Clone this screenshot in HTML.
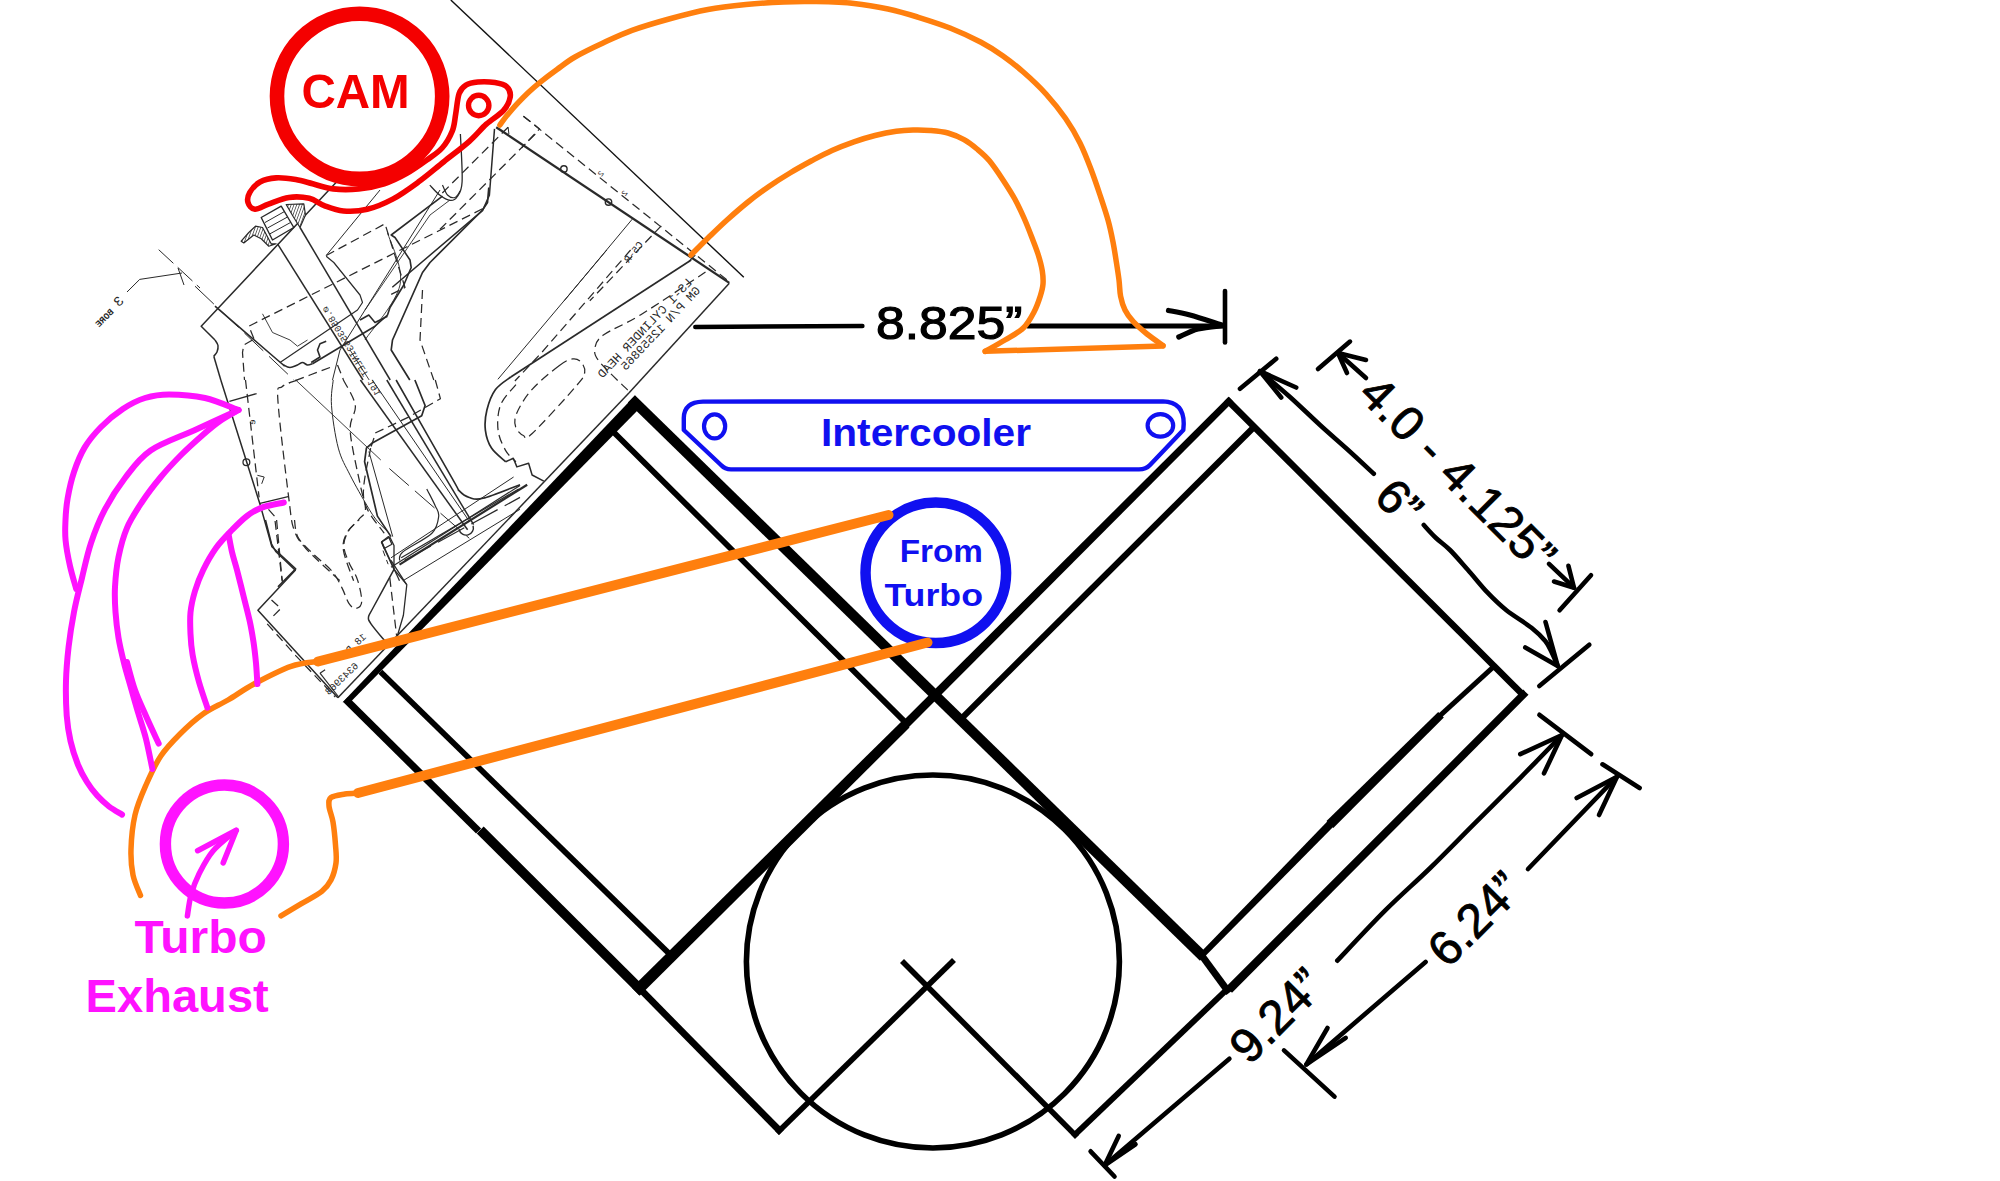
<!DOCTYPE html>
<html><head><meta charset="utf-8"><title>Engine layout</title>
<style>
html,body{margin:0;padding:0;background:#fff;}
body{width:2000px;height:1181px;overflow:hidden;}
svg{display:block;}
text{font-family:"Liberation Sans",sans-serif;}
.b{font-weight:bold;}
.m{font-family:"Liberation Mono",monospace;}
</style></head><body>
<svg width="2000" height="1181" viewBox="0 0 2000 1181">
<defs><pattern id="hatch" width="2.6" height="2.6" patternUnits="userSpaceOnUse" patternTransform="rotate(20)"><rect width="2.6" height="2.6" fill="#fff"/><line x1="0" y1="0" x2="0" y2="2.6" stroke="#222" stroke-width="1.3"/></pattern></defs>
<g id="head">
<path d="M336.5,182.0 L201.2,326.2 L215.0,340.0" fill="none" stroke="#2a2a2a" stroke-width="1.5" stroke-linecap="butt" stroke-linejoin="round" />
<path d="M215.0,340.0 C215.5,340.9 217.7,343.5 218.0,345.5 C218.3,347.5 217.7,350.2 217.0,352.0 C216.3,353.8 214.3,355.5 213.8,356.2" fill="none" stroke="#2a2a2a" stroke-width="1.5" stroke-linecap="butt" stroke-linejoin="round" />
<path d="M213.8,356.2 L220.8,380.0" fill="none" stroke="#2a2a2a" stroke-width="1.5" stroke-linecap="butt" stroke-linejoin="round" />
<path d="M220.8,380.0 L260.0,504.2 L271.9,546.8 L295.7,568.9 L277.9,586.8" fill="none" stroke="#2a2a2a" stroke-width="1.5" stroke-linecap="butt" stroke-linejoin="round" />
<path d="M229.4,401.3 L256.6,393.6" fill="none" stroke="#2a2a2a" stroke-width="1.25" stroke-linecap="butt" stroke-linejoin="round" />
<path d="M260.0,503.4 L288.1,496.6" fill="none" stroke="#2a2a2a" stroke-width="1.25" stroke-linecap="butt" stroke-linejoin="round" />
<circle cx="246.4" cy="462.2" r="3.4" fill="none" stroke="#2a2a2a" stroke-width="1.3"/>
<path d="M257.4,475.3 L264.2,477.0 L261.7,483.8" fill="none" stroke="#2a2a2a" stroke-width="1.0" stroke-linecap="butt" stroke-linejoin="round" />
<path d="M252.5,340.0 L243.8,345.0 L242.5,352.5 L244.5,380.0" fill="none" stroke="#2a2a2a" stroke-width="1.25" stroke-linecap="butt" stroke-linejoin="round" stroke-dasharray="9 5"/>
<path d="M245.5,380.0 L259.1,497.4" fill="none" stroke="#2a2a2a" stroke-width="1.25" stroke-linecap="butt" stroke-linejoin="round" stroke-dasharray="9 5"/>
<path d="M268.5,509.3 L274.5,516.1 L282.1,580.8" fill="none" stroke="#2a2a2a" stroke-width="1.25" stroke-linecap="butt" stroke-linejoin="round" stroke-dasharray="9 5"/>
<path d="M265.5,520.0 L271.5,543.8 L275.7,551.5 L295.3,570.2 L257.9,610.2 L337.9,697.8" fill="none" stroke="#2a2a2a" stroke-width="1.5" stroke-linecap="butt" stroke-linejoin="round" />
<path d="M337.9,697.8 L628.9,393.0" fill="none" stroke="#2a2a2a" stroke-width="1.5" stroke-linecap="butt" stroke-linejoin="round" />
<path d="M276.6,520.0 L281.7,576.2 L282.5,582.1" fill="none" stroke="#2a2a2a" stroke-width="1.25" stroke-linecap="butt" stroke-linejoin="round" stroke-dasharray="9 5"/>
<path d="M271.5,600.0 L280.8,608.5 L270.6,618.7" fill="none" stroke="#2a2a2a" stroke-width="1.25" stroke-linecap="butt" stroke-linejoin="round" stroke-dasharray="9 5"/>
<path d="M267.2,623.8 L296.2,656.1 L335.3,697.0" fill="none" stroke="#2a2a2a" stroke-width="1.25" stroke-linecap="butt" stroke-linejoin="round" stroke-dasharray="9 5"/>
<path d="M320.0,673.2 L338.7,697.0" fill="none" stroke="#2a2a2a" stroke-width="1.2" stroke-linecap="butt" stroke-linejoin="round" />
<path d="M320.0,673.2 L325.1,669.8" fill="none" stroke="#2a2a2a" stroke-width="1.2" stroke-linecap="butt" stroke-linejoin="round" />
<path d="M294.5,520.0 C295.0,522.8 295.0,531.6 297.9,537.0 C300.7,542.4 305.8,546.7 311.5,552.3 C317.1,558.0 326.8,565.1 331.9,571.1 C337.0,577.0 339.3,582.7 342.1,588.1 C344.9,593.5 346.6,600.0 348.9,603.4 C351.2,606.8 353.6,608.8 355.7,608.5 C357.9,608.2 361.4,606.5 361.7,601.7 C362.0,596.9 359.6,586.1 357.4,579.6 C355.3,573.0 351.2,568.2 348.9,562.5 C346.6,556.9 343.8,550.9 343.8,545.5 C343.8,540.1 346.4,534.5 348.9,530.2 C351.5,526.0 357.4,521.7 359.1,520.0" fill="none" stroke="#2a2a2a" stroke-width="1.25" stroke-linecap="butt" stroke-linejoin="round" stroke-dasharray="9 5"/>
<path d="M394.0,569.4 C390.5,575.9 377.0,600.6 372.7,608.5 C368.5,616.4 368.8,614.5 368.5,617.0 C368.2,619.6 368.3,619.8 371.0,623.8 C373.7,627.8 382.4,638.0 384.7,640.8" fill="none" stroke="#2a2a2a" stroke-width="1.5" stroke-linecap="butt" stroke-linejoin="round" />
<path d="M394.0,569.4 L406.8,584.7 L403.4,615.3 L397.4,635.7" fill="none" stroke="#2a2a2a" stroke-width="1.3" stroke-linecap="butt" stroke-linejoin="round" />
<path d="M389.8,577.9 L396.6,635.7" fill="none" stroke="#2a2a2a" stroke-width="1.25" stroke-linecap="butt" stroke-linejoin="round" stroke-dasharray="9 5"/>
<path d="M381.3,542.1 L389.8,537.0 L394.0,545.5 L394.0,569.4" fill="none" stroke="#2a2a2a" stroke-width="1.3" stroke-linecap="butt" stroke-linejoin="round" />
<path d="M381.3,542.1 L394.0,569.4" fill="none" stroke="#2a2a2a" stroke-width="1.3" stroke-linecap="butt" stroke-linejoin="round" />
<path d="M383.0,550.6 L388.1,564.2" fill="none" stroke="#2a2a2a" stroke-width="1.0" stroke-linecap="butt" stroke-linejoin="round" stroke-dasharray="6 4"/>
<path d="M241.2,241.2 L248.8,232.5 L255.5,226.2 L262.5,227.5 L271.2,243.8 L276.2,243.8 L268.8,246.2 L261.2,238.8 L253.8,235.0 L243.8,243.0Z" fill="url(#hatch)" stroke="#2a2a2a" stroke-width="1.2" stroke-linecap="butt" stroke-linejoin="round" />
<path d="M286.2,204.5 L303.8,203.8 L305.5,215.0 L300.0,227.5 L293.0,216.2Z" fill="url(#hatch)" stroke="#2a2a2a" stroke-width="1.2" stroke-linecap="butt" stroke-linejoin="round" />
<path d="M261.2,217.5 L281.2,206.2 L293.8,227.5 L272.5,240.0Z" fill="none" stroke="#2a2a2a" stroke-width="1.4" stroke-linecap="butt" stroke-linejoin="round" />
<path d="M265.0,222.5 L284.5,211.5" fill="none" stroke="#2a2a2a" stroke-width="1.0" stroke-linecap="butt" stroke-linejoin="round" />
<path d="M267.5,228.0 L287.5,217.0" fill="none" stroke="#2a2a2a" stroke-width="1.0" stroke-linecap="butt" stroke-linejoin="round" />
<path d="M270.0,233.8 L290.5,222.5" fill="none" stroke="#2a2a2a" stroke-width="1.0" stroke-linecap="butt" stroke-linejoin="round" />
<path d="M277.5,243.8 L363.0,380.0" fill="none" stroke="#2a2a2a" stroke-width="1.5" stroke-linecap="butt" stroke-linejoin="round" />
<path d="M300.0,227.5 L390.2,380.0" fill="none" stroke="#2a2a2a" stroke-width="1.5" stroke-linecap="butt" stroke-linejoin="round" />
<path d="M350.0,350.0 L369.2,380.0" fill="none" stroke="#2a2a2a" stroke-width="0.9" stroke-linecap="butt" stroke-linejoin="round" />
<path d="M360.4,380.0 L467.6,529.8" fill="none" stroke="#2a2a2a" stroke-width="1.5" stroke-linecap="butt" stroke-linejoin="round" />
<path d="M372.3,380.0 L469.3,521.3" fill="none" stroke="#2a2a2a" stroke-width="1.0" stroke-linecap="butt" stroke-linejoin="round" />
<path d="M386.8,380.0 L473.6,524.7" fill="none" stroke="#2a2a2a" stroke-width="1.5" stroke-linecap="butt" stroke-linejoin="round" />
<path d="M215.0,306.2 C225.4,315.2 266.0,350.2 277.5,360.0 C289.0,369.8 281.7,363.8 283.8,365.0 C285.8,366.2 287.7,367.5 290.0,367.5 C292.3,367.5 295.4,365.8 297.5,365.0 C299.6,364.2 300.8,362.5 302.5,362.5 C304.2,362.5 305.8,364.8 307.5,365.0 C309.2,365.2 311.7,364.0 312.5,363.8" fill="none" stroke="#2a2a2a" stroke-width="1.6" stroke-linecap="butt" stroke-linejoin="round" />
<path d="M312.5,363.8 L375.0,326.2 L387.5,315.0 L390.0,307.5 L403.8,285.0 L411.2,267.5 L410.0,260.0 L395.0,237.5 L391.2,235.0 L442.5,196.2" fill="none" stroke="#2a2a2a" stroke-width="1.6" stroke-linecap="butt" stroke-linejoin="round" />
<path d="M311.2,362.5 L320.0,357.0 L317.5,350.0 L320.0,343.8 L326.2,341.2" fill="none" stroke="#2a2a2a" stroke-width="1.6" stroke-linecap="butt" stroke-linejoin="round" />
<path d="M360.0,320.0 L368.8,315.0 L375.0,322.5 L387.5,316.2" fill="none" stroke="#2a2a2a" stroke-width="1.6" stroke-linecap="butt" stroke-linejoin="round" />
<path d="M326.2,256.2 L333.8,262.5 L360.0,295.0 L362.5,302.5 L357.5,310.0 L280.0,362.5" fill="none" stroke="#2a2a2a" stroke-width="1.2" stroke-linecap="butt" stroke-linejoin="round" />
<path d="M380.0,190.0 L326.2,255.5" fill="none" stroke="#2a2a2a" stroke-width="1.0" stroke-linecap="butt" stroke-linejoin="round" />
<path d="M440.0,190.0 L340.0,350.0 L332.5,380.0" fill="none" stroke="#2a2a2a" stroke-width="1.0" stroke-linecap="butt" stroke-linejoin="round" />
<path d="M450.0,200.0 L430.0,215.0 L365.0,310.0" fill="none" stroke="#2a2a2a" stroke-width="0.9" stroke-linecap="butt" stroke-linejoin="round" />
<path d="M488.8,187.5 L487.5,202.5 L482.5,210.0 L430.0,262.5 L422.5,272.5 L392.5,340.0 L391.2,350.0 L409.8,380.0" fill="none" stroke="#2a2a2a" stroke-width="1.7" stroke-linecap="butt" stroke-linejoin="round" />
<path d="M442.5,185.0 C443.3,186.7 445.4,192.9 447.5,195.0 C449.6,197.1 452.9,198.1 455.0,197.5 C457.1,196.9 459.2,192.3 460.0,191.2" fill="none" stroke="#2a2a2a" stroke-width="1.2" stroke-linecap="butt" stroke-linejoin="round" />
<path d="M482.5,208.8 L248.8,326.2 L255.5,342.5" fill="none" stroke="#2a2a2a" stroke-width="1.25" stroke-linecap="butt" stroke-linejoin="round" stroke-dasharray="9 5"/>
<path d="M326.2,255.5 L385.0,223.8 L405.0,287.5 L390.0,295.0" fill="none" stroke="#2a2a2a" stroke-width="1.25" stroke-linecap="butt" stroke-linejoin="round" stroke-dasharray="9 5"/>
<path d="M262.5,313.8 L272.5,332.5 L290.0,340.0 L297.5,346.2 L307.5,340.0" fill="none" stroke="#2a2a2a" stroke-width="0.9" stroke-linecap="butt" stroke-linejoin="round" />
<path d="M330.0,367.5 C326.7,368.8 316.9,372.4 310.0,375.0 C303.1,377.6 292.3,381.7 288.8,383.0" fill="none" stroke="#2a2a2a" stroke-width="1.25" stroke-linecap="butt" stroke-linejoin="round" stroke-dasharray="9 5"/>
<path d="M422.5,290.0 L420.0,340.0 L433.8,380.0" fill="none" stroke="#2a2a2a" stroke-width="1.25" stroke-linecap="butt" stroke-linejoin="round" stroke-dasharray="9 5"/>
<path d="M195.0,286.2 L294.0,380.0" fill="none" stroke="#2a2a2a" stroke-width="1.0" stroke-linecap="butt" stroke-linejoin="round" stroke-dasharray="26 8"/>
<path d="M337.5,365.0 L343.5,380.0" fill="none" stroke="#2a2a2a" stroke-width="1.25" stroke-linecap="butt" stroke-linejoin="round" stroke-dasharray="9 5"/>
<path d="M387.5,232.5 C389.6,241.2 403.8,267.1 400.0,285.0 C396.2,302.9 370.8,330.8 365.0,340.0" fill="none" stroke="#2a2a2a" stroke-width="0.9" stroke-linecap="butt" stroke-linejoin="round" />
<path d="M297.4,380.0 C294.9,381.1 285.4,383.4 282.1,386.8 C278.8,390.2 276.7,381.7 277.9,400.4 C279.0,419.1 286.2,477.6 288.9,499.1 C291.6,520.7 291.2,521.5 294.0,529.8 C296.9,538.0 298.3,540.0 305.9,548.5 C313.6,557.0 334.3,575.4 340.0,580.8" fill="none" stroke="#2a2a2a" stroke-width="1.25" stroke-linecap="butt" stroke-linejoin="round" stroke-dasharray="9 5"/>
<path d="M333.2,380.0 C332.9,384.3 330.6,394.2 331.5,405.5 C332.3,416.9 335.2,436.4 338.3,448.1 C341.4,459.7 345.4,465.7 350.2,475.3 C355.0,484.9 362.7,498.3 367.2,505.9 C371.7,513.6 373.7,516.7 377.4,521.3 C381.1,525.8 387.3,531.2 389.3,533.2" fill="none" stroke="#2a2a2a" stroke-width="1.0" stroke-linecap="butt" stroke-linejoin="round" />
<path d="M343.4,380.0 C345.4,384.3 354.2,397.0 355.3,405.5 C356.4,414.0 349.3,417.7 350.2,431.1 C351.0,444.4 357.8,472.5 360.4,485.5 C362.9,498.6 365.8,503.7 365.5,509.3 C365.2,515.0 361.8,515.6 358.7,519.6 C355.6,523.5 349.3,528.1 346.8,533.2 C344.2,538.3 342.2,542.2 343.4,550.2 C344.5,558.1 351.9,575.7 353.6,580.8" fill="none" stroke="#2a2a2a" stroke-width="1.25" stroke-linecap="butt" stroke-linejoin="round" stroke-dasharray="9 5"/>
<path d="M414.9,380.0 L425.1,405.5 L421.7,415.7 L372.3,443.0 L366.4,448.1 L364.6,461.7 L377.4,516.1 L391.0,536.6" fill="none" stroke="#2a2a2a" stroke-width="1.7" stroke-linecap="butt" stroke-linejoin="round" />
<path d="M435.3,380.0 L440.4,398.7 L408.0,417.4 L375.7,432.8 L370.6,448.1" fill="none" stroke="#2a2a2a" stroke-width="1.25" stroke-linecap="butt" stroke-linejoin="round" stroke-dasharray="9 5"/>
<path d="M368.9,451.5 L392.7,536.6" fill="none" stroke="#2a2a2a" stroke-width="1.0" stroke-linecap="butt" stroke-linejoin="round" />
<path d="M370.6,448.1 C369.5,456.6 361.5,484.9 363.8,499.1 C366.1,513.3 380.8,527.5 384.2,533.2" fill="none" stroke="#2a2a2a" stroke-width="1.25" stroke-linecap="butt" stroke-linejoin="round" stroke-dasharray="9 5"/>
<path d="M295.7,380.0 L380.8,460.0" fill="none" stroke="#2a2a2a" stroke-width="0.9" stroke-linecap="butt" stroke-linejoin="round" />
<path d="M389.3,468.5 L469.3,538.3" fill="none" stroke="#2a2a2a" stroke-width="1.0" stroke-linecap="butt" stroke-linejoin="round" stroke-dasharray="26 8"/>
<path d="M396.1,380.0 C405.5,396.5 441.8,460.3 452.3,478.7 C462.8,497.1 456.3,487.5 459.1,490.6 C461.9,493.7 465.3,496.2 469.3,497.4 C473.3,498.7 474.5,500.4 482.9,498.3 C491.4,496.2 513.8,486.9 520.0,484.7" fill="none" stroke="#2a2a2a" stroke-width="1.6" stroke-linecap="butt" stroke-linejoin="round" />
<path d="M399.5,560.4 C400.1,559.0 397.6,556.4 402.9,551.9 C408.3,547.3 425.9,539.1 431.9,533.2 C437.8,527.2 438.1,520.7 438.7,516.1 C439.2,511.6 437.3,510.5 435.3,505.9 C433.3,501.4 428.2,491.8 426.8,488.9" fill="none" stroke="#2a2a2a" stroke-width="1.2" stroke-linecap="butt" stroke-linejoin="round" />
<path d="M391.0,567.2 L520.0,485.5" fill="none" stroke="#2a2a2a" stroke-width="1.2" stroke-linecap="butt" stroke-linejoin="round" />
<path d="M399.5,564.6 L527.2,484.7" fill="none" stroke="#2a2a2a" stroke-width="2.2" stroke-linecap="butt" stroke-linejoin="round" />
<path d="M401.2,557.8 L518.7,488.9" fill="none" stroke="#2a2a2a" stroke-width="1.2" stroke-linecap="butt" stroke-linejoin="round" />
<path d="M391.0,557.8 L513.6,477.0" fill="none" stroke="#2a2a2a" stroke-width="1.0" stroke-linecap="butt" stroke-linejoin="round" />
<path d="M404.6,560.4 L520.0,497.4" fill="none" stroke="#2a2a2a" stroke-width="1.2" stroke-linecap="butt" stroke-linejoin="round" stroke-dasharray="30 8"/>
<path d="M381.7,541.7 L388.5,536.6 L391.9,544.2 L384.2,548.5Z" fill="none" stroke="#2a2a2a" stroke-width="1.3" stroke-linecap="butt" stroke-linejoin="round" />
<path d="M381.7,541.7 L399.5,580.8" fill="none" stroke="#2a2a2a" stroke-width="1.3" stroke-linecap="butt" stroke-linejoin="round" />
<path d="M391.0,560.4 L406.3,584.2" fill="none" stroke="#2a2a2a" stroke-width="1.3" stroke-linecap="butt" stroke-linejoin="round" />
<path d="M402.9,580.8 L520.0,509.3" fill="none" stroke="#2a2a2a" stroke-width="1.0" stroke-linecap="butt" stroke-linejoin="round" />
<path d="M459.1,529.8 a7,7 0 0 0 14,-4" fill="none" stroke="#2a2a2a" stroke-width="1.4"/>
<path d="M496.2,127.2 L729.3,282.9" fill="none" stroke="#2a2a2a" stroke-width="2.3" stroke-linecap="butt" stroke-linejoin="round" />
<path d="M523.4,116.2 L729.3,281.8" fill="none" stroke="#2a2a2a" stroke-width="1.25" stroke-linecap="butt" stroke-linejoin="round" stroke-dasharray="9 5"/>
<path d="M523.4,116.2 L539.6,128.9 L521.7,147.7" fill="none" stroke="#2a2a2a" stroke-width="1.25" stroke-linecap="butt" stroke-linejoin="round" stroke-dasharray="9 5"/>
<path d="M508.1,127.2 L440.0,195.3" fill="none" stroke="#2a2a2a" stroke-width="1.25" stroke-linecap="butt" stroke-linejoin="round" stroke-dasharray="9 5"/>
<path d="M535.3,134.0 L440.0,229.3" fill="none" stroke="#2a2a2a" stroke-width="1.25" stroke-linecap="butt" stroke-linejoin="round" stroke-dasharray="9 5"/>
<path d="M508.1,127.2 L508.9,134.0" fill="none" stroke="#2a2a2a" stroke-width="1.0" stroke-linecap="butt" stroke-linejoin="round" />
<circle cx="563.9" cy="168.9" r="3.2" fill="none" stroke="#2a2a2a" stroke-width="1.4"/>
<circle cx="608.5" cy="202.1" r="3.2" fill="none" stroke="#2a2a2a" stroke-width="1.4"/>
<path d="M494.5,128.9 L489.4,195.3 L482.5,210.6 L392.3,287.2" fill="none" stroke="#2a2a2a" stroke-width="1.5" stroke-linecap="butt" stroke-linejoin="round" />
<path d="M460.4,134.0 C460.7,142.0 462.7,171.2 462.1,181.7 C461.6,192.2 459.0,193.9 457.0,197.0 C455.0,200.1 453.0,200.7 450.2,200.4 C447.4,200.1 443.4,197.9 440.0,195.3 C436.6,192.8 431.5,186.8 429.8,185.1" fill="none" stroke="#2a2a2a" stroke-width="1.3" stroke-linecap="butt" stroke-linejoin="round" />
<path d="M632.3,219.1 L564.2,300.8" fill="none" stroke="#2a2a2a" stroke-width="1.0" stroke-linecap="butt" stroke-linejoin="round" />
<path d="M661.2,225.9 L589.8,300.8" fill="none" stroke="#2a2a2a" stroke-width="1.25" stroke-linecap="butt" stroke-linejoin="round" stroke-dasharray="9 5"/>
<path d="M606.8,250.0 L497.9,379.3" fill="none" stroke="#2a2a2a" stroke-width="1.0" stroke-linecap="butt" stroke-linejoin="round" />
<path d="M630.6,250.0 L542.1,352.1 L514.9,381.0" fill="none" stroke="#2a2a2a" stroke-width="1.25" stroke-linecap="butt" stroke-linejoin="round" stroke-dasharray="9 5"/>
<path d="M515.9,384.6 C513.4,388.0 503.6,397.3 500.6,404.9 C497.6,412.5 497.2,422.7 498.1,430.3 C499.0,437.9 502.7,445.4 505.7,450.6 C508.7,455.9 514.2,459.9 515.9,461.8" fill="none" stroke="#2a2a2a" stroke-width="1.25" stroke-linecap="butt" stroke-linejoin="round" stroke-dasharray="9 5"/>
<path d="M691.2,260.0 L510.8,377.0" fill="none" stroke="#2a2a2a" stroke-width="1.7" stroke-linecap="butt" stroke-linejoin="round" />
<path d="M510.8,377.0 C508.2,379.1 499.5,384.1 495.5,389.6 C491.5,395.1 488.6,403.2 486.9,410.0 C485.2,416.8 484.6,424.0 485.4,430.3 C486.2,436.6 488.1,442.8 491.5,448.0 C494.9,453.2 503.3,459.5 505.7,461.8" fill="none" stroke="#2a2a2a" stroke-width="1.7" stroke-linecap="butt" stroke-linejoin="round" />
<path d="M505.7,461.8 L513.3,458.2 L516.9,466.9 L528.6,463.3 L532.1,475.0 L543.8,481.1" fill="none" stroke="#2a2a2a" stroke-width="1.5" stroke-linecap="butt" stroke-linejoin="round" />
<path d="M729.3,283.2 L628.9,393.0" fill="none" stroke="#2a2a2a" stroke-width="1.5" stroke-linecap="butt" stroke-linejoin="round" />
<path d="M688.5,261.9 L695.3,255.1" fill="none" stroke="#2a2a2a" stroke-width="1.2" stroke-linecap="butt" stroke-linejoin="round" />
<path d="M705.5,272.1 C694.7,279.2 657.8,304.2 640.8,314.7 C623.8,325.2 611.0,329.4 603.4,335.1 C595.7,340.8 595.4,344.2 594.9,348.7 C594.3,353.2 594.3,355.2 600.0,362.3 C605.6,369.4 624.1,386.4 628.9,391.3" fill="none" stroke="#2a2a2a" stroke-width="1.25" stroke-linecap="butt" stroke-linejoin="round" stroke-dasharray="9 5"/>
<path d="M559.1,365.7 C565.9,360.6 569.1,359.5 572.7,358.9 C576.4,358.4 579.3,360.1 581.3,362.3 C583.2,364.6 585.5,368.6 584.7,372.5 C583.8,376.5 584.9,375.9 576.1,386.1 C567.4,396.4 540.7,425.6 531.9,433.8 C523.1,442.0 526.1,436.6 523.4,435.5 C520.7,434.4 516.9,430.7 515.7,427.0 C514.6,423.3 513.9,419.6 516.6,413.4 C519.3,407.1 524.8,397.5 531.9,389.6 C539.0,381.6 552.3,370.8 559.1,365.7Z" fill="none" stroke="#2a2a2a" stroke-width="1.25" stroke-linecap="butt" stroke-linejoin="round" stroke-dasharray="9 5"/>
<path d="M127.0,292.0 L139.7,279.4 L182.0,273.0" fill="none" stroke="#2a2a2a" stroke-width="1.0" stroke-linecap="butt" stroke-linejoin="round" />
<path d="M158.7,249.7 L200.0,288.0" fill="none" stroke="#2a2a2a" stroke-width="1.0" stroke-linecap="butt" stroke-linejoin="round" stroke-dasharray="20 6"/>
<path d="M178.0,268.0 L184.0,285.0" fill="none" stroke="#2a2a2a" stroke-width="1.0" stroke-linecap="butt" stroke-linejoin="round" />
<text class="m" transform="matrix(-0.6853,0.7283,0.7283,0.6853,692.7,283.0)" font-size="12.2" fill="#2a2a2a">LS-1 CYLINDER HEAD</text>
<text class="m" transform="matrix(-0.6853,0.7283,0.7283,0.6853,700.9,291.1)" font-size="12.2" fill="#2a2a2a">GM P/N 12559865</text>
<text class="m" transform="matrix(-0.6222,0.7828,0.7828,0.6222,643.4,244.7)" font-size="10" fill="#2a2a2a">C5-R</text>
<text class="m" transform="matrix(0.5291,0.8486,0.8486,-0.5291,327.0,305.5)" font-size="9.5" fill="#2a2a2a">⌀.8503563</text>
<text class="m" transform="matrix(0.5291,0.8486,0.8486,-0.5291,353.8,350.0)" font-size="9.5" fill="#2a2a2a">INLET 191</text>
<text class="m" transform="matrix(-0.7220,0.6919,0.6919,0.7220,366.8,637.4)" font-size="10" fill="#2a2a2a">18 D</text>
<text class="m" transform="matrix(-0.7220,0.6919,0.6919,0.7220,359.1,666.4)" font-size="10" fill="#2a2a2a">6343963</text>
<text class="m" transform="matrix(-0.7021,0.7121,0.7121,0.7021,114.2,312.3)" font-size="9" fill="#2a2a2a" font-weight="bold">BORE</text>
<text class="m" transform="matrix(-0.7021,0.7121,0.7121,0.7021,124.8,301.6)" font-size="14" fill="#2a2a2a">3</text>
<text class="m" transform="matrix(-0.2000,0.9798,0.9798,0.2000,255.7,420.0)" font-size="9" fill="#2a2a2a">e</text>
<text class="m" transform="matrix(-0.6000,0.8000,0.8000,0.6000,604.2,173.2)" font-size="8" fill="#2a2a2a">2</text>
<text class="m" transform="matrix(-0.6000,0.8000,0.8000,0.6000,628.1,192.8)" font-size="8" fill="#2a2a2a">2</text>
</g>
<line x1="450.8" y1="0.0" x2="743.8" y2="277.2" stroke="#111" stroke-width="1.4" stroke-linecap="butt"/>
<path d="M683.8,430 L683.8,418 Q684,402 703,401.6 L1163,401.4 Q1184,402 1183.7,424 L1183.3,430 L1150,465 Q1146,469.4 1139,469.4 L731,469.4 Q725,469.4 721,465 Z" fill="none" stroke="#1010f0" stroke-width="4.4" stroke-linecap="round" stroke-linejoin="round" />
<ellipse cx="714.6" cy="426.3" rx="10.6" ry="12" fill="none" stroke="#1010f0" stroke-width="4.2"/>
<ellipse cx="1160.4" cy="425.4" rx="12.8" ry="11.2" fill="none" stroke="#1010f0" stroke-width="4.2"/>
<text class="b" x="821" y="445.6" font-size="39" fill="#1010f0" textLength="210" lengthAdjust="spacingAndGlyphs">Intercooler</text>
<circle cx="935.8" cy="572.8" r="70.3" fill="none" stroke="#1010f0" stroke-width="10.5"/>
<text class="b" x="899.7" y="561.6" font-size="31.5" fill="#1010f0" textLength="83.3" lengthAdjust="spacingAndGlyphs">From</text>
<text class="b" x="884.4" y="606.1" font-size="31.5" fill="#1010f0" textLength="98.6" lengthAdjust="spacingAndGlyphs">Turbo</text>
<polygon points="635,395.6 342.6,702.2 351.5,701 638,410" fill="#000"/>
<line x1="613.0" y1="431.5" x2="906.4" y2="723.4" stroke="#000" stroke-width="5.8" stroke-linecap="butt"/>
<line x1="345.7" y1="699.4" x2="478.6" y2="831.0" stroke="#000" stroke-width="7.2" stroke-linecap="butt"/>
<line x1="480.2" y1="830.0" x2="642.6" y2="991.7" stroke="#000" stroke-width="9.8" stroke-linecap="butt"/>
<line x1="380.4" y1="671.7" x2="672.0" y2="956.4" stroke="#000" stroke-width="5.7" stroke-linecap="butt"/>
<line x1="631.4" y1="398.9" x2="1203.5" y2="957.0" stroke="#000" stroke-width="10.2" stroke-linecap="butt"/>
<line x1="1201.0" y1="954.5" x2="1229.2" y2="992.8" stroke="#000" stroke-width="7" stroke-linecap="butt"/>
<polygon points="639.7,995.7 909.5,727.6 902.5,720.4 631.8,987.7" fill="#000"/>
<polygon points="907.0,729.0 1233.4,401.6 1228.6,396.8 901.0,723.0" fill="#000"/>
<line x1="1226.4" y1="399.2" x2="1525.1" y2="697.0" stroke="#000" stroke-width="6.6" stroke-linecap="butt"/>
<polygon points="1523.2,689.6 1226.0,986.8 1232.0,992.8 1528.5,694.8" fill="#000"/>
<line x1="1227.5" y1="988.9" x2="1072.9" y2="1136.7" stroke="#000" stroke-width="5.9" stroke-linecap="butt"/>
<line x1="1252.5" y1="428.5" x2="961.1" y2="718.9" stroke="#000" stroke-width="6.2" stroke-linecap="butt"/>
<line x1="1493.7" y1="666.7" x2="1440.0" y2="715.7" stroke="#000" stroke-width="5" stroke-linecap="butt"/>
<polygon points="1438.2,711.9 1326.5,821.1 1333.3,827.9 1443.8,717.5" fill="#000"/>
<polygon points="1328.2,820.6 1199.0,954.1 1203.2,958.3 1333.8,826.2" fill="#000"/>
<line x1="639.3" y1="988.2" x2="781.4" y2="1132.5" stroke="#000" stroke-width="6.8" stroke-linecap="butt"/>
<line x1="777.0" y1="1132.9" x2="954.0" y2="960.0" stroke="#000" stroke-width="5.6" stroke-linecap="butt"/>
<line x1="902.0" y1="961.0" x2="1077.0" y2="1136.9" stroke="#000" stroke-width="5.6" stroke-linecap="butt"/>
<circle cx="932.9" cy="961.5" r="186.5" fill="none" stroke="#000" stroke-width="5.6"/>
<line x1="695.3" y1="327.0" x2="862.4" y2="326.0" stroke="#000" stroke-width="4.5" stroke-linecap="round"/>
<line x1="1027.5" y1="326.0" x2="1223.0" y2="326.0" stroke="#000" stroke-width="4.8" stroke-linecap="round"/>
<path d="M1168.5,310.5 C1172.1,311.2 1180.8,312.5 1190.0,315.0 C1199.2,317.5 1218.1,323.8 1223.8,325.5" fill="none" stroke="#000" stroke-width="5.2" stroke-linecap="round" stroke-linejoin="round" />
<path d="M1223.8,325.5 C1219.5,326.1 1205.5,327.1 1198.0,329.0 C1190.5,330.9 1182.0,335.7 1178.8,337.0" fill="none" stroke="#000" stroke-width="5.2" stroke-linecap="round" stroke-linejoin="round" />
<line x1="1225.0" y1="291.0" x2="1225.0" y2="342.5" stroke="#000" stroke-width="4.6" stroke-linecap="round"/>
<text x="876" y="338.6" font-size="46" fill="#000" stroke="#000" stroke-width="1.2" textLength="146.4" lengthAdjust="spacingAndGlyphs">8.825”</text>
<path d="M318.0,661.5 L888.5,515.0" fill="none" stroke="#ff7f0e" stroke-width="10" stroke-linecap="round" stroke-linejoin="round" />
<path d="M358.0,793.0 L927.5,642.5" fill="none" stroke="#ff7f0e" stroke-width="10" stroke-linecap="round" stroke-linejoin="round" />
<path d="M318.0,661.5 C313.5,662.3 301.7,662.6 291.0,666.4 C280.3,670.1 264.5,678.4 254.0,684.0 C243.5,689.6 236.5,695.0 228.0,700.0 C219.5,705.0 211.0,708.3 203.0,714.0 C195.0,719.7 187.0,727.0 180.0,734.0 C173.0,741.0 166.5,747.5 160.8,756.0 C155.1,764.5 150.3,775.2 146.0,785.0 C141.7,794.8 137.5,804.2 135.0,815.0 C132.5,825.8 131.3,839.5 131.0,849.5 C130.7,859.5 131.4,867.3 133.0,875.0 C134.6,882.7 139.2,892.1 140.5,895.5" fill="none" stroke="#ff7f0e" stroke-width="5.5" stroke-linecap="round" stroke-linejoin="round" />
<path d="M358.0,793.0 C355.8,793.2 349.5,793.2 345.0,794.0 C340.5,794.8 333.7,795.5 331.0,797.5 C328.3,799.5 328.7,801.9 329.0,806.0 C329.3,810.1 331.9,815.5 333.0,822.0 C334.1,828.5 335.0,838.2 335.5,845.0 C336.0,851.8 336.8,857.2 336.0,863.0 C335.2,868.8 333.4,875.3 331.0,880.0 C328.6,884.7 326.7,887.4 321.8,891.4 C316.9,895.4 308.2,899.6 301.4,903.7 C294.6,907.8 284.4,913.9 281.0,915.9" fill="none" stroke="#ff7f0e" stroke-width="5.5" stroke-linecap="round" stroke-linejoin="round" />
<path d="M499.9,125.0 C501.2,123.2 504.9,117.9 508.0,114.2 C511.1,110.5 514.8,106.3 518.2,102.7 C521.6,99.1 524.7,95.9 528.3,92.5 C531.9,89.1 535.2,86.1 540.0,82.3 C544.8,78.5 551.2,73.7 557.0,69.5 C562.8,65.3 567.3,61.4 575.0,57.0 C582.7,52.6 593.5,47.4 603.0,43.0 C612.5,38.6 621.0,34.4 632.0,30.4 C643.0,26.4 656.3,22.5 669.0,19.0 C681.7,15.5 695.2,11.9 708.0,9.5 C720.8,7.1 733.3,5.8 746.0,4.5 C758.7,3.2 773.0,2.4 784.0,1.9 C795.0,1.4 800.3,1.2 812.0,1.5 C823.7,1.8 841.3,2.1 854.0,3.4 C866.7,4.7 877.4,6.7 888.0,9.0 C898.6,11.3 907.2,13.8 917.5,17.0 C927.8,20.2 939.4,23.8 950.0,28.0 C960.6,32.2 972.2,37.6 981.0,42.3 C989.8,47.0 996.0,51.0 1003.0,56.0 C1010.0,61.0 1016.1,65.7 1023.3,72.0 C1030.5,78.3 1039.0,86.2 1046.0,94.0 C1053.0,101.8 1059.9,110.3 1065.6,118.5 C1071.3,126.7 1075.8,134.5 1080.0,143.0 C1084.2,151.5 1087.7,160.6 1091.0,169.3 C1094.3,178.0 1097.2,186.6 1100.0,195.0 C1102.8,203.4 1105.8,212.2 1108.0,220.0 C1110.2,227.8 1111.6,234.9 1113.0,242.0 C1114.4,249.1 1115.4,256.1 1116.4,262.4 C1117.4,268.7 1118.3,274.4 1119.0,280.0 C1119.7,285.6 1119.6,291.3 1120.6,296.3 C1121.6,301.3 1122.9,305.8 1125.0,310.0 C1127.1,314.2 1129.6,317.7 1133.3,321.7 C1137.0,325.7 1142.0,330.0 1147.0,334.0 C1152.0,338.0 1160.3,343.6 1163.0,345.5" fill="none" stroke="#ff7f0e" stroke-width="5.5" stroke-linecap="round" stroke-linejoin="round" />
<path d="M1163.0,346.0 L985.2,351.3" fill="none" stroke="#ff7f0e" stroke-width="5.5" stroke-linecap="round" stroke-linejoin="round" />
<path d="M985.2,351.3 C988.5,349.4 998.6,343.9 1005.0,340.0 C1011.4,336.1 1018.5,332.7 1023.3,328.0 C1028.1,323.3 1031.2,317.3 1034.0,312.0 C1036.8,306.7 1038.7,301.0 1040.2,296.3 C1041.7,291.6 1042.7,288.2 1043.0,284.0 C1043.3,279.8 1043.1,276.0 1042.3,271.0 C1041.5,266.0 1039.8,259.7 1038.0,254.0 C1036.2,248.3 1034.0,243.0 1031.7,237.0 C1029.4,231.0 1026.8,224.3 1024.0,218.0 C1021.2,211.7 1018.3,205.3 1014.8,199.0 C1011.3,192.7 1007.2,186.4 1003.0,180.0 C998.8,173.6 993.7,166.0 989.4,160.8 C985.1,155.6 981.2,152.5 977.0,149.0 C972.8,145.5 968.8,142.4 964.0,139.7 C959.2,137.0 953.6,134.6 948.0,133.0 C942.4,131.4 936.0,130.9 930.2,130.4 C924.4,129.9 918.6,129.9 913.0,130.0 C907.4,130.1 902.6,130.3 896.3,131.2 C890.0,132.1 882.0,133.7 875.0,135.5 C868.0,137.3 861.2,139.3 854.0,141.8 C846.8,144.3 839.1,147.3 832.0,150.5 C824.9,153.7 818.6,157.1 811.6,160.8 C804.6,164.6 797.0,168.8 790.0,173.0 C783.0,177.2 776.3,181.4 769.3,186.2 C762.3,191.0 755.0,196.4 748.0,202.0 C741.0,207.6 733.7,214.0 727.0,220.0 C720.3,226.0 714.0,232.2 708.0,238.0 C702.0,243.8 693.8,252.2 691.0,255.0" fill="none" stroke="#ff7f0e" stroke-width="5.5" stroke-linecap="round" stroke-linejoin="round" />
<path d="M238.5,410.0 C232.9,408.0 216.6,400.6 205.0,398.0 C193.4,395.4 179.0,394.4 169.0,394.4 C159.0,394.4 152.7,395.6 145.0,398.0 C137.3,400.4 130.1,404.2 122.8,409.0 C115.5,413.8 107.3,420.6 101.0,427.0 C94.7,433.4 89.2,439.9 84.7,447.4 C80.2,454.9 76.8,463.6 74.0,472.0 C71.2,480.4 69.1,490.0 67.7,498.0 C66.3,506.0 65.8,512.9 65.5,520.0 C65.2,527.1 64.8,532.8 65.6,540.5 C66.3,548.2 68.2,557.9 70.0,566.0 C71.8,574.1 75.2,585.2 76.2,589.0" fill="none" stroke="#ff12ff" stroke-width="6" stroke-linecap="round" stroke-linejoin="round" />
<path d="M238.5,410.0 C231.2,413.3 209.7,423.2 195.0,430.0 C180.3,436.8 162.3,442.5 150.6,450.5 C138.9,458.5 132.6,468.1 125.0,478.0 C117.4,487.9 110.5,498.8 104.8,509.6 C99.1,520.4 94.8,531.6 91.0,543.0 C87.2,554.4 84.7,566.7 81.9,578.2 C79.1,589.7 76.2,600.5 74.0,612.0 C71.8,623.5 69.9,635.4 68.6,646.9 C67.3,658.4 66.3,669.6 66.0,681.0 C65.7,692.4 66.0,705.5 66.7,715.5 C67.5,725.5 68.6,732.8 70.5,741.0 C72.4,749.2 75.3,758.2 78.1,765.0 C80.8,771.8 83.8,776.9 87.0,782.0 C90.2,787.1 93.5,791.5 97.2,795.6 C100.9,799.7 104.9,803.3 109.0,806.5 C113.1,809.7 119.8,813.2 122.0,814.6" fill="none" stroke="#ff12ff" stroke-width="6" stroke-linecap="round" stroke-linejoin="round" />
<path d="M238.5,410.0 C235.4,411.8 225.9,416.9 220.0,421.0 C214.1,425.1 209.5,429.0 203.0,434.7 C196.5,440.4 188.0,447.9 181.0,455.0 C174.0,462.1 167.3,469.2 160.8,477.0 C154.3,484.8 147.6,493.5 142.0,502.0 C136.4,510.5 130.9,518.6 127.0,527.8 C123.1,537.0 120.5,547.1 118.5,557.0 C116.5,566.9 115.5,577.8 115.0,587.0 C114.5,596.2 114.9,603.5 115.5,612.0 C116.1,620.5 117.1,629.3 118.5,637.8 C119.9,646.3 121.9,654.5 124.0,663.0 C126.1,671.5 128.8,680.1 131.2,688.6 C133.6,697.1 136.0,705.6 138.5,714.0 C141.0,722.4 143.7,729.8 146.0,739.0 C148.3,748.2 151.3,764.0 152.4,769.0" fill="none" stroke="#ff12ff" stroke-width="6" stroke-linecap="round" stroke-linejoin="round" />
<path d="M127.0,662.0 C128.3,666.7 131.8,681.0 135.0,690.0 C138.2,699.0 142.1,707.1 146.0,716.0 C149.9,724.9 156.6,739.0 158.7,743.6" fill="none" stroke="#ff12ff" stroke-width="6" stroke-linecap="round" stroke-linejoin="round" />
<path d="M283.8,502.5 C280.1,503.4 267.8,505.4 261.7,507.6 C255.6,509.9 251.9,512.3 247.0,516.0 C242.1,519.7 237.2,524.7 232.0,530.0 C226.8,535.3 220.8,541.3 216.0,548.0 C211.2,554.7 206.7,562.8 203.2,570.0 C199.7,577.2 197.1,583.9 195.0,591.0 C192.9,598.1 191.2,605.2 190.5,612.4 C189.8,619.6 190.2,626.9 190.5,634.0 C190.8,641.1 191.2,646.8 192.6,654.8 C194.0,662.8 196.5,673.2 199.0,682.0 C201.5,690.8 206.0,703.4 207.4,707.7" fill="none" stroke="#ff12ff" stroke-width="6" stroke-linecap="round" stroke-linejoin="round" />
<path d="M228.5,534.0 C229.1,537.0 230.6,546.0 232.0,552.0 C233.4,558.0 235.1,562.7 237.0,570.0 C238.9,577.3 241.4,587.5 243.5,596.0 C245.6,604.5 248.0,613.3 249.7,621.0 C251.4,628.7 252.4,635.0 253.5,642.0 C254.6,649.0 255.3,656.0 256.0,663.0 C256.6,670.0 257.2,680.5 257.4,684.0" fill="none" stroke="#ff12ff" stroke-width="6" stroke-linecap="round" stroke-linejoin="round" />
<circle cx="224.4" cy="844" r="59" fill="none" stroke="#ff12ff" stroke-width="11.4"/>
<path d="M187.4,915.9 C188.0,912.4 189.1,902.0 191.0,895.0 C192.9,888.0 195.3,881.3 199.0,874.0 C202.7,866.7 206.8,858.3 213.0,851.0 C219.2,843.7 232.4,833.8 236.3,830.3" fill="none" stroke="#ff12ff" stroke-width="5.5" stroke-linecap="round" stroke-linejoin="round" />
<path d="M197.6,850.7 L236.3,830.3 L223.2,862.9" fill="none" stroke="#ff12ff" stroke-width="5.5" stroke-linecap="round" stroke-linejoin="round" />
<text class="b" x="134.4" y="952.5" font-size="45.5" fill="#ff12ff" textLength="132.4" lengthAdjust="spacingAndGlyphs">Turbo</text>
<text class="b" x="85.5" y="1011.6" font-size="45.5" fill="#ff12ff" textLength="183.3" lengthAdjust="spacingAndGlyphs">Exhaust</text>
<circle cx="359.6" cy="96.3" r="82.6" fill="#fff" stroke="#f40000" stroke-width="14.6"/>
<text class="b" x="301.4" y="107.9" font-size="49" fill="#f40000" textLength="108.3" lengthAdjust="spacingAndGlyphs">CAM</text>
<path d="M276.2,177.9 C270.2,178.3 264.4,179.6 260.0,182.0 C255.6,184.4 251.8,188.9 249.8,192.3 C247.8,195.7 247.2,199.7 248.0,202.5 C248.8,205.3 251.5,209.0 254.9,209.3 C258.3,209.6 262.8,206.2 268.5,204.2 C274.2,202.2 282.1,198.4 288.9,197.4 C295.7,196.4 303.3,196.9 309.3,198.3 C315.3,199.7 319.0,203.8 324.7,205.9 C330.4,208.0 336.3,210.4 343.4,211.0 C350.5,211.6 359.0,211.3 367.2,209.3 C375.4,207.3 384.2,203.6 392.7,199.1 C401.2,194.6 409.8,188.3 418.3,182.1 C426.8,175.9 435.3,168.5 443.8,161.7 C452.3,154.9 462.2,147.6 469.3,141.3 C476.4,135.1 480.6,129.3 486.3,124.2 C492.0,119.1 499.4,115.1 503.4,110.6 C507.4,106.1 509.6,101.0 510.2,97.0 C510.8,93.0 509.4,89.2 506.8,86.8 C504.2,84.4 499.7,83.4 494.9,82.6 C490.1,81.8 482.6,81.6 477.8,82.0 C473.0,82.4 469.0,83.2 465.9,85.1 C462.8,87.0 460.8,88.8 459.1,93.6 C457.4,98.4 456.8,107.8 455.7,114.0 C454.6,120.2 454.6,125.3 452.3,131.0 C450.0,136.7 446.4,143.2 442.1,148.0 C437.9,152.8 432.8,155.7 426.8,160.0 C420.9,164.3 413.5,169.6 406.4,173.6 C399.3,177.6 392.1,181.2 384.2,183.8 C376.2,186.4 367.2,188.1 358.7,188.9 C350.2,189.8 340.9,189.8 333.2,188.9 C325.5,188.1 318.9,185.4 312.7,183.8 C306.4,182.2 301.8,180.6 295.7,179.6 C289.6,178.6 282.1,177.5 276.2,177.9Z" fill="none" stroke="#f40000" stroke-width="5.6" stroke-linecap="round" stroke-linejoin="round" />
<circle cx="478.7" cy="105.5" r="10.2" fill="none" stroke="#f40000" stroke-width="5.4"/>
<line x1="1240.0" y1="388.8" x2="1276.2" y2="358.8" stroke="#000" stroke-width="4.6" stroke-linecap="round"/>
<path d="M1296.2,387.5 L1260.0,371.2 L1281.2,397.5" fill="none" stroke="#000" stroke-width="4.6" stroke-linecap="round" stroke-linejoin="round" />
<path d="M1260.0,371.2 C1265.0,375.5 1280.0,388.0 1290.0,397.0 C1300.0,406.0 1310.5,416.3 1320.0,425.0 C1329.5,433.7 1338.0,440.9 1347.0,449.0 C1356.0,457.1 1369.3,469.6 1373.8,473.8" fill="none" stroke="#000" stroke-width="4.6" stroke-linecap="round" stroke-linejoin="round" />
<path d="M1423.8,525.0 C1425.8,527.2 1431.6,533.8 1436.0,538.0 C1440.4,542.2 1444.7,544.7 1450.0,550.0 C1455.3,555.3 1461.7,562.9 1468.0,570.0 C1474.3,577.1 1481.2,586.0 1487.6,592.7 C1494.0,599.4 1499.1,604.4 1506.4,610.3 C1513.7,616.1 1525.0,622.6 1531.5,627.8 C1538.0,633.0 1542.1,637.1 1545.5,641.3 C1548.9,645.5 1550.0,648.9 1552.0,653.0 C1554.0,657.1 1556.8,663.8 1557.7,665.9" fill="none" stroke="#000" stroke-width="4.6" stroke-linecap="round" stroke-linejoin="round" />
<path d="M1545.5,622.0 L1557.7,665.9 L1525.3,647.5" fill="none" stroke="#000" stroke-width="4.6" stroke-linecap="round" stroke-linejoin="round" />
<line x1="1539.3" y1="686.0" x2="1589.3" y2="644.8" stroke="#000" stroke-width="4.6" stroke-linecap="round"/>
<text transform="translate(1372.4,498.7) rotate(45)" font-size="48" fill="#000" stroke="#000" stroke-width="0.9">6”</text>
<line x1="1318.0" y1="369.0" x2="1350.0" y2="341.6" stroke="#000" stroke-width="4.6" stroke-linecap="round"/>
<path d="M1366.0,360.0 L1338.0,353.0 L1347.0,373.0" fill="none" stroke="#000" stroke-width="4.6" stroke-linecap="round" stroke-linejoin="round" />
<line x1="1338.0" y1="353.0" x2="1366.0" y2="378.0" stroke="#000" stroke-width="4.6" stroke-linecap="round"/>
<text transform="translate(1356.7,396.1) rotate(45)" font-size="48" fill="#000" stroke="#000" stroke-width="0.9" letter-spacing="0.7">4.0 - 4.125”</text>
<line x1="1549.0" y1="563.9" x2="1574.0" y2="587.7" stroke="#000" stroke-width="4.6" stroke-linecap="round"/>
<path d="M1568.4,565.8 L1574.0,587.7 L1554.0,581.5" fill="none" stroke="#000" stroke-width="4.6" stroke-linecap="round" stroke-linejoin="round" />
<line x1="1559.6" y1="610.3" x2="1591.0" y2="575.2" stroke="#000" stroke-width="4.6" stroke-linecap="round"/>
<line x1="1539.4" y1="714.8" x2="1591.2" y2="754.2" stroke="#000" stroke-width="4.6" stroke-linecap="round"/>
<path d="M1520.3,754.2 L1562.0,735.0 L1544.0,773.3" fill="none" stroke="#000" stroke-width="4.6" stroke-linecap="round" stroke-linejoin="round" />
<path d="M1562.0,735.0 C1555.0,742.1 1534.8,763.1 1520.3,777.8 C1505.8,792.4 1490.2,807.9 1475.2,822.9 C1460.2,837.9 1445.2,853.4 1430.2,868.0 C1415.2,882.6 1400.5,895.2 1385.0,910.7 C1369.5,926.2 1345.2,952.4 1337.3,960.7" fill="none" stroke="#000" stroke-width="4.6" stroke-linecap="round" stroke-linejoin="round" />
<text transform="translate(1249.5,1065.9) rotate(-45)" font-size="48" fill="#000" stroke="#000" stroke-width="0.9">9.24”</text>
<line x1="1229.4" y1="1058.8" x2="1104.7" y2="1165.3" stroke="#000" stroke-width="4.6" stroke-linecap="round"/>
<path d="M1118.7,1135.9 L1104.7,1165.3 L1135.5,1144.3" fill="none" stroke="#000" stroke-width="4.6" stroke-linecap="round" stroke-linejoin="round" />
<line x1="1090.6" y1="1151.3" x2="1114.5" y2="1176.5" stroke="#000" stroke-width="4.6" stroke-linecap="round"/>
<line x1="1602.5" y1="764.3" x2="1639.6" y2="788.0" stroke="#000" stroke-width="4.6" stroke-linecap="round"/>
<path d="M1576.6,798.0 L1617.0,776.7 L1599.0,815.0" fill="none" stroke="#000" stroke-width="4.6" stroke-linecap="round" stroke-linejoin="round" />
<line x1="1617.0" y1="776.7" x2="1528.0" y2="869.0" stroke="#000" stroke-width="4.6" stroke-linecap="round"/>
<text transform="translate(1447.7,969.2) rotate(-45)" font-size="48" fill="#000" stroke="#000" stroke-width="0.9">6.24”</text>
<line x1="1425.6" y1="962.0" x2="1306.4" y2="1064.4" stroke="#000" stroke-width="4.6" stroke-linecap="round"/>
<path d="M1327.5,1028.0 L1306.4,1064.4 L1345.7,1037.8" fill="none" stroke="#000" stroke-width="4.6" stroke-linecap="round" stroke-linejoin="round" />
<line x1="1284.0" y1="1050.4" x2="1334.5" y2="1096.6" stroke="#000" stroke-width="4.6" stroke-linecap="round"/>
</svg>
</body></html>
